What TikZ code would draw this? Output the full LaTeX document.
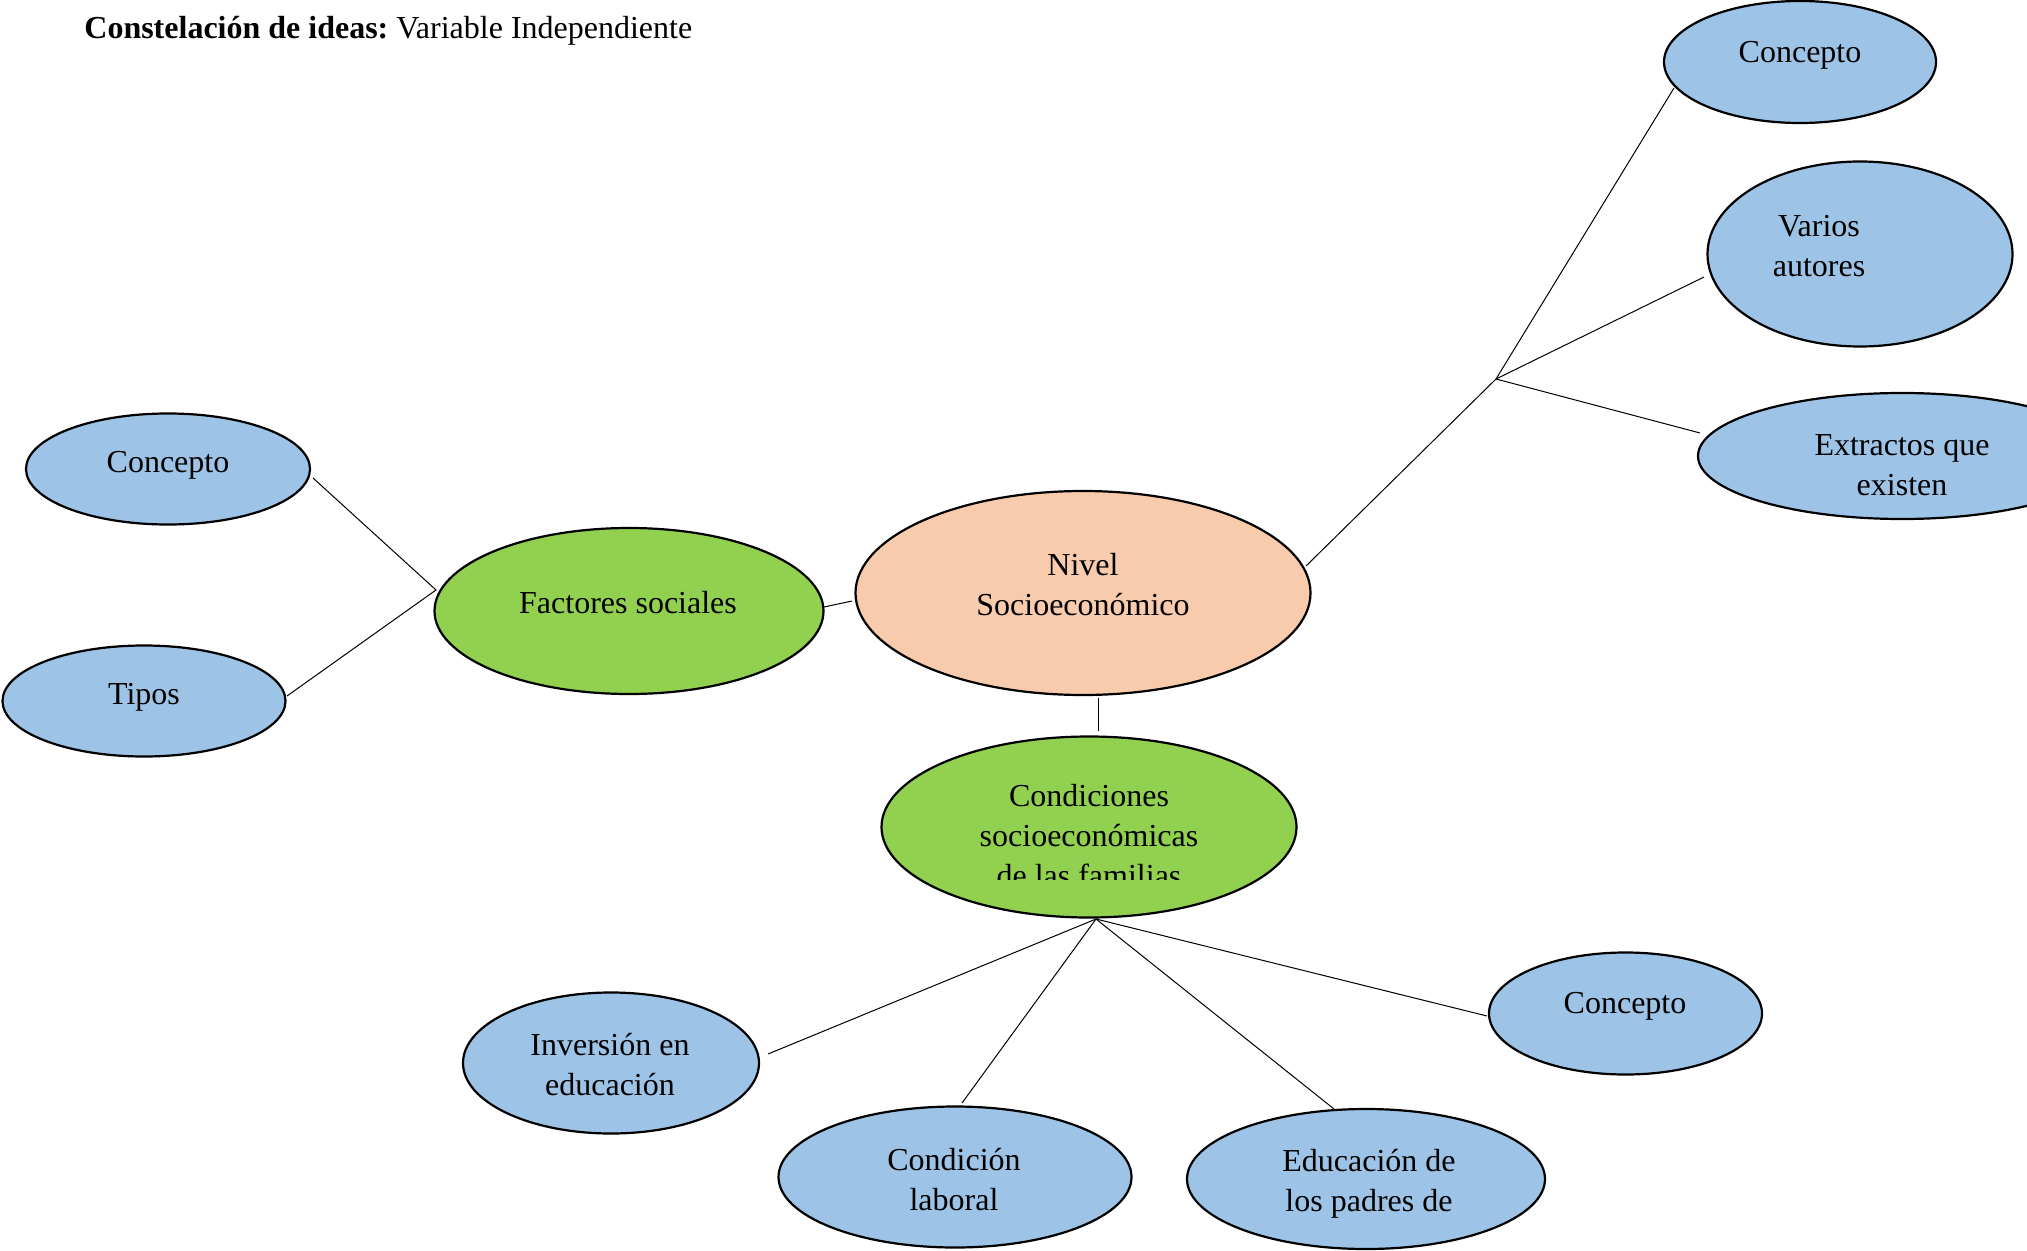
\documentclass[tikz,border=0pt]{standalone}
\usepackage{fontspec}
\setmainfont{Liberation Serif}
\usetikzlibrary{shapes.geometric}
\definecolor{blueFill}{HTML}{9DC3E6}
\definecolor{greenFill}{HTML}{92D050}
\definecolor{peachFill}{HTML}{F8CBAD}
\frenchspacing
\begin{document}
\begin{tikzpicture}[x=0.5pt,y=-0.5pt,
  oval/.style={ellipse, draw=black, line width=1.1pt, inner sep=0pt},
  bluenode/.style={oval, fill=blueFill},
  greennode/.style={oval, fill=greenFill},
  peachnode/.style={oval, fill=peachFill},
  lbl/.style={font=\fontsize{16}{20}\selectfont, align=center, inner sep=0pt},
  link/.style={draw=black, line width=0.5pt}]
\clip (0,0) rectangle (2027,1251);

% title
\node[anchor=base west, inner sep=0pt, font=\fontsize{16}{20}\selectfont] (title) at (84,39) {\textbf{Constelación de ideas:} Variable Independiente};

% ellipses
\node[bluenode, minimum width=136pt, minimum height=61pt] (c1) at (1800,62) {};
\node[bluenode, minimum width=152.5pt, minimum height=92.5pt] (varios) at (1860,254) {};
\node[bluenode, minimum width=204pt, minimum height=63pt] (extr) at (1902,456) {};
\node[peachnode, minimum width=227.5pt, minimum height=102pt] (nivel) at (1083,593) {};
\node[greennode, minimum width=194.5pt, minimum height=83pt] (fact) at (629,611) {};
\node[bluenode, minimum width=142pt, minimum height=55.5pt] (cL) at (168,469) {};
\node[bluenode, minimum width=141.5pt, minimum height=55.5pt] (tipos) at (144,701) {};
\node[greennode, minimum width=207.5pt, minimum height=90.5pt] (cond) at (1089,827) {};
\node[bluenode, minimum width=136.5pt, minimum height=61pt] (cBR) at (1625.5,1013.5) {};
\node[bluenode, minimum width=148pt, minimum height=70.5pt] (inv) at (611,1063) {};
\node[bluenode, minimum width=176.5pt, minimum height=70.5pt] (lab) at (955,1177) {};
\node[bluenode, minimum width=179pt, minimum height=70pt] (edu) at (1366,1179) {};

% labels
\node[lbl] (t-c1) at (1800,55) {Concepto};
\node[lbl] (t-varios) at (1819,246) {Varios\\autores};
\node[lbl] (t-extr) at (1902,465) {Extractos que\\existen};
\node[lbl] (t-nivel) at (1083,585) {Nivel\\Socioeconómico};
\node[lbl] (t-fact) at (628,603) {Factores sociales};
\node[lbl] (t-cL) at (168,465) {Concepto};
\node[lbl] (t-tipos) at (144,697) {Tipos};
\begin{scope}
\clip (850,700) rectangle (1330,879);
\node[lbl] (t-cond) at (1089,836) {Condiciones\\socioeconómicas\\de las familias};
\end{scope}
\node[lbl] (t-cBR) at (1625,1006) {Concepto};
\node[lbl] (t-inv) at (610,1065) {Inversión en\\educación};
\node[lbl] (t-lab) at (954,1180) {Condición\\laboral};
\node[lbl] (t-edu) at (1369,1184) {Educación de\\los padres de};

% connector points
\coordinate (hubR) at (1496,379);
\coordinate (nivR) at (1306,566);
\coordinate (c1end) at (1674,88);
\coordinate (variosend) at (1704,277);
\coordinate (extrend) at (1700,433);
\coordinate (factR) at (824,607);
\coordinate (nivL) at (852,601);
\coordinate (hubL) at (436,590);
\coordinate (cLend) at (313,478);
\coordinate (tiposend) at (287,696);
\coordinate (nivB) at (1098,698);
\coordinate (condT) at (1098,731);
\coordinate (hubB) at (1096,919);
\coordinate (invend) at (768,1054);
\coordinate (labend) at (962,1103);
\coordinate (eduend) at (1334,1109);
\coordinate (cBRend) at (1487,1016);

\draw[link] (nivR) -- (hubR) -- (c1end);
\draw[link] (hubR) -- (variosend);
\draw[link] (hubR) -- (extrend);
\draw[link] (factR) -- (nivL);
\draw[link] (cLend) -- (hubL) -- (tiposend);
\draw[link] (nivB) -- (condT);
\draw[link] (hubB) -- (invend);
\draw[link] (hubB) -- (labend);
\draw[link] (hubB) -- (eduend);
\draw[link] (hubB) -- (cBRend);
\end{tikzpicture}
\end{document}
